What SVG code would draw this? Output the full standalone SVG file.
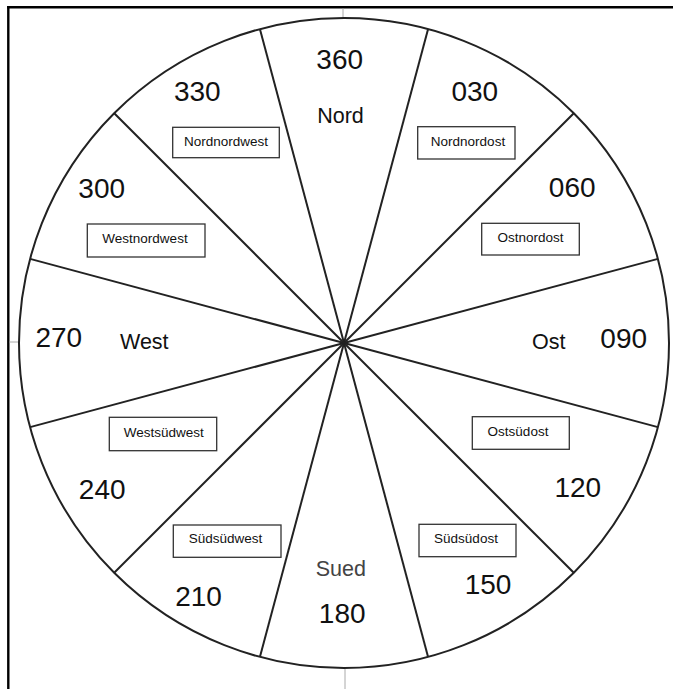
<svg xmlns="http://www.w3.org/2000/svg" width="673" height="689" viewBox="0 0 673 689">
<style>
text{font-family:"Liberation Sans",Arial,sans-serif;fill:#111;text-anchor:middle}
.num{font-size:28px}
.dir{font-size:21.5px}
.sm{font-size:13.5px}
.box{fill:#fff;stroke:#333;stroke-width:1.3}
.spoke{stroke:#222;stroke-width:2;fill:none}
.tick{stroke:#aaa;stroke-width:1}
</style>
<rect width="673" height="689" fill="#fff"/>
<g id="frame">
<line x1="7.2" y1="7.3" x2="673" y2="7.3" stroke="#000" stroke-width="2.4"/>
<line x1="8.3" y1="6.1" x2="8.3" y2="689" stroke="#000" stroke-width="2.4"/>
<line class="tick" x1="343" y1="8.5" x2="343" y2="18"/>
<line class="tick" x1="345" y1="669" x2="345" y2="689"/>
<line class="tick" x1="9.5" y1="342" x2="19" y2="342"/>
</g>
<g id="connectors">
<circle class="spoke" cx="344" cy="343" r="325"/>
<line class="spoke" x1="344" y1="343" x2="259.9" y2="29.1"/>
<line class="spoke" x1="344" y1="343" x2="428.1" y2="29.1"/>
<line class="spoke" x1="344" y1="343" x2="573.8" y2="113.2"/>
<line class="spoke" x1="344" y1="343" x2="657.9" y2="258.9"/>
<line class="spoke" x1="344" y1="343" x2="657.9" y2="427.1"/>
<line class="spoke" x1="344" y1="343" x2="573.8" y2="572.8"/>
<line class="spoke" x1="344" y1="343" x2="428.1" y2="656.9"/>
<line class="spoke" x1="344" y1="343" x2="259.9" y2="656.9"/>
<line class="spoke" x1="344" y1="343" x2="114.2" y2="572.8"/>
<line class="spoke" x1="344" y1="343" x2="30.1" y2="427.1"/>
<line class="spoke" x1="344" y1="343" x2="30.1" y2="258.9"/>
<line class="spoke" x1="344" y1="343" x2="114.2" y2="113.2"/>
</g>
<g id="n360">
<text class="num" x="339.7" y="69.3">360</text>
<text class="dir" x="340.5" y="123.3">Nord</text>
</g>
<g id="n030">
<text class="num" x="474.8" y="100.7">030</text>
<rect class="box" x="417.7" y="126.7" width="97.3" height="32.3"/>
<text class="sm" x="468" y="145.5">Nordnordost</text>
</g>
<g id="n060">
<text class="num" x="572.2" y="196.7">060</text>
<rect class="box" x="481.7" y="223.3" width="97.6" height="31.7"/>
<text class="sm" x="530.5" y="242.3">Ostnordost</text>
</g>
<g id="n090">
<text class="num" x="623.7" y="348.3">090</text>
<text class="dir" x="548.7" y="349">Ost</text>
</g>
<g id="n120">
<rect class="box" x="472.3" y="416.7" width="97" height="32.6"/>
<text class="sm" x="518" y="435.7">Ostsüdost</text>
<text class="num" x="577.8" y="497.3">120</text>
</g>
<g id="n150">
<rect class="box" x="419" y="524.3" width="97" height="32.4"/>
<text class="sm" x="466" y="543.3">Südsüdost</text>
<text class="num" x="488" y="594">150</text>
</g>
<g id="n180">
<text class="dir" x="340.8" y="575.7" style="fill:#444">Sued</text>
<text class="num" x="342.2" y="622.7">180</text>
</g>
<g id="n210">
<rect class="box" x="173.3" y="525" width="107.7" height="32.3"/>
<text class="sm" x="225.5" y="543.3">Südsüdwest</text>
<text class="num" x="198.5" y="605.7">210</text>
</g>
<g id="n240">
<rect class="box" x="109.3" y="417.3" width="107.4" height="33.4"/>
<text class="sm" x="163.8" y="436.7">Westsüdwest</text>
<text class="num" x="102.2" y="499">240</text>
</g>
<g id="n270">
<text class="num" x="58.8" y="347.3">270</text>
<text class="dir" x="144.3" y="349">West</text>
</g>
<g id="n300">
<text class="num" x="101.7" y="197.7">300</text>
<rect class="box" x="87.3" y="224" width="117.7" height="33"/>
<text class="sm" x="145" y="242.7">Westnordwest</text>
</g>
<g id="n330">
<text class="num" x="197.3" y="101">330</text>
<rect class="box" x="172.7" y="127.3" width="106.6" height="30.4"/>
<text class="sm" x="226" y="146">Nordnordwest</text>
</g>
</svg>
